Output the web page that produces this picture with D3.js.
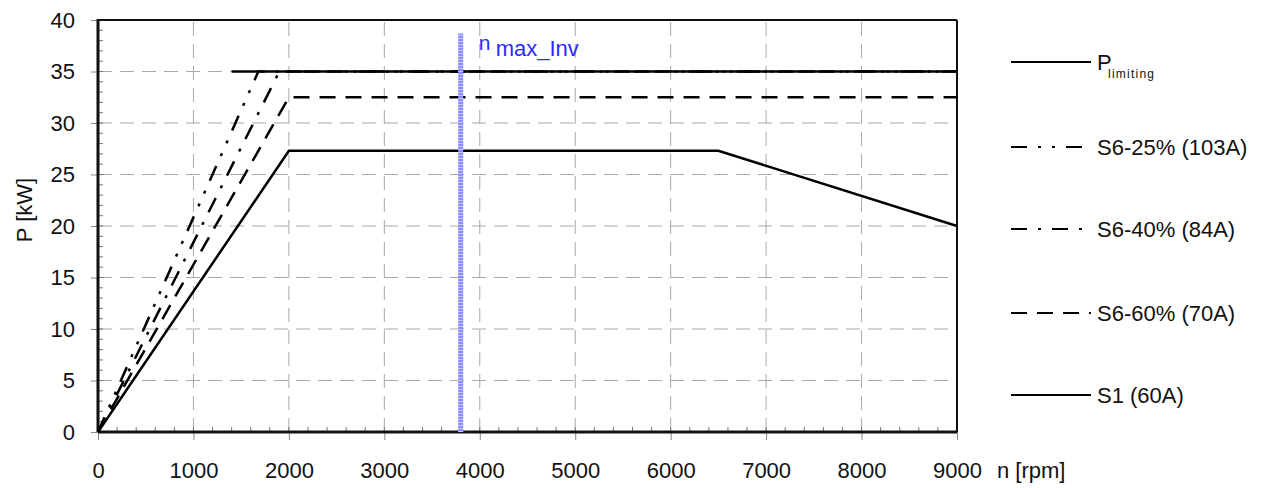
<!DOCTYPE html>
<html>
<head>
<meta charset="utf-8">
<script src="https://cdn.jsdelivr.net/npm/d3@7"></script>
<style>
  body { margin: 0; background: #fff; }
  svg { font-family: "Liberation Sans", Arial, sans-serif; }
</style>
</head>
<body>
<div id="chart"></div>
<script>
// speed [rpm] / power [kW] breakpoints
const pLimitN = [1400, 9000];
const pLimitP = [35, 35];
const s625N = [0, 1680, 9000];
const s625P = [0, 35, 35];
const s640N = [0, 1900, 9000];
const s640P = [0, 35, 35];
const s660N = [0, 2000, 9000];
const s660P = [0, 32.5, 32.5];
const s1N = [0, 2000, 6500, 9000];
const s1P = [0, 27.3, 27.3, 20];
const nMaxInv = 3800;
const nMaxTop = 38.7;
const xTicks = [0, 1000, 2000, 3000, 4000, 5000, 6000, 7000, 8000, 9000];
const yTicks = [0, 5, 10, 15, 20, 25, 30, 35, 40];

const width = 1268, height = 488;
const margin = { left: 98, right: 311, top: 20, bottom: 56 };
const fontSize = 22;

const dash25 = "16,11,3,11,3,11";
const dash40 = "16,11,3,11";
const dash60 = "16,10";

const svg = d3.select("#chart").append("svg")
  .attr("width", width)
  .attr("height", height);

const x = d3.scaleLinear().domain([0, 9000]).range([margin.left, width - margin.right]);
const y = d3.scaleLinear().domain([0, 40]).range([height - margin.bottom, margin.top]);

// grid
const grid = svg.append("g").attr("stroke", "#a8a8a8").attr("stroke-width", 1).attr("stroke-dasharray", "14,8");
grid.selectAll(".gx").data(xTicks.slice(1, -1)).enter().append("line")
  .attr("x1", d => x(d)).attr("x2", d => x(d))
  .attr("y1", y(0)).attr("y2", y(40));
grid.selectAll(".gy").data(yTicks.slice(1, -1)).enter().append("line")
  .attr("x1", x(0)).attr("x2", x(9000))
  .attr("y1", d => y(d)).attr("y2", d => y(d));

// minor ticks inside the frame
const minor = svg.append("g").attr("stroke", "#777").attr("stroke-width", 1);
minor.selectAll(".mx").data(d3.range(200, 9000, 200)).enter().append("line")
  .attr("x1", d => x(d)).attr("x2", d => x(d))
  .attr("y1", y(0)).attr("y2", y(0) - 5);
minor.selectAll(".my").data(d3.range(1, 40, 1)).enter().append("line")
  .attr("x1", x(0)).attr("x2", x(0) + 5)
  .attr("y1", d => y(d)).attr("y2", d => y(d));

// axes
const xAxis = svg.append("g")
  .attr("transform", `translate(0,${y(0)})`)
  .call(d3.axisBottom(x).tickValues(xTicks).tickSize(8).tickSizeOuter(0).tickPadding(22).tickFormat(d3.format("d")));
const yAxis = svg.append("g")
  .attr("transform", `translate(${x(0)},0)`)
  .call(d3.axisLeft(y).tickValues(yTicks).tickSize(7).tickSizeOuter(0).tickPadding(16));
[xAxis, yAxis].forEach(a => {
  a.select(".domain").remove();
  a.selectAll(".tick line").attr("stroke", "#888");
  a.selectAll(".tick text").attr("font-size", fontSize).attr("fill", "#111")
    .style("font-family", "'Liberation Sans', Arial, sans-serif");
});

// frame
svg.append("line").attr("x1", x(0)).attr("x2", x(9000)).attr("y1", y(40)).attr("y2", y(40))
  .attr("stroke", "#111").attr("stroke-width", 2);
svg.append("line").attr("x1", x(9000)).attr("x2", x(9000)).attr("y1", y(40)).attr("y2", y(0))
  .attr("stroke", "#111").attr("stroke-width", 2);
svg.append("line").attr("x1", x(0)).attr("x2", x(9000)).attr("y1", y(0)).attr("y2", y(0))
  .attr("stroke", "#111").attr("stroke-width", 3);
svg.append("line").attr("x1", x(0)).attr("x2", x(0)).attr("y1", y(40) - 1).attr("y2", y(0))
  .attr("stroke", "#111").attr("stroke-width", 3);

// axis titles
svg.append("text").attr("x", 997).attr("y", 478)
  .attr("font-size", fontSize).attr("fill", "#111").text("n [rpm]");
svg.append("text")
  .attr("transform", "translate(32,210) rotate(-90)")
  .attr("text-anchor", "middle").attr("font-size", fontSize).attr("fill", "#111").text("P [kW]");

// series
const series = [
  { name: "S1 (60A)", n: s1N, p: s1P, dash: null },
  { name: "S6-60% (70A)", n: s660N, p: s660P, dash: dash60 },
  { name: "S6-40% (84A)", n: s640N, p: s640P, dash: dash40 },
  { name: "S6-25% (103A)", n: s625N, p: s625P, dash: dash25 },
  { name: "Plimiting", n: pLimitN, p: pLimitP, dash: null }
];

const line = d3.line().x(d => x(d[0])).y(d => y(d[1]));

svg.append("g").selectAll("path").data(series).enter().append("path")
  .attr("d", s => line(s.n.map((v, i) => [v, s.p[i]])))
  .attr("fill", "none")
  .attr("stroke", "#000")
  .attr("stroke-width", 2.5)
  .attr("stroke-dasharray", s => s.dash);

// inverter max speed marker
svg.append("line")
  .attr("x1", x(nMaxInv)).attr("x2", x(nMaxInv))
  .attr("y1", y(0)).attr("y2", y(nMaxTop))
  .attr("stroke", "#8c8cff").attr("stroke-width", 5);
svg.append("line")
  .attr("x1", x(nMaxInv)).attr("x2", x(nMaxInv))
  .attr("y1", y(0)).attr("y2", y(nMaxTop))
  .attr("stroke", "#c8c8ff").attr("stroke-width", 5).attr("stroke-dasharray", "1,2");
svg.append("text").attr("x", x(nMaxInv) + 18).attr("y", 50)
  .attr("fill", "#2a2aff").attr("font-size", 21).text("n");
svg.append("text").attr("x", x(nMaxInv) + 35).attr("y", 56)
  .attr("fill", "#2a2aff").attr("font-size", fontSize).text("max_Inv");

// legend
const legendItems = [
  { n: 0, label: "P", sub: "limiting", dash: null },
  { n: 1, label: "S6-25% (103A)", dash: dash25 },
  { n: 2, label: "S6-40% (84A)", dash: dash40 },
  { n: 3, label: "S6-60% (70A)", dash: dash60 },
  { n: 4, label: "S1 (60A)", dash: null }
];
const legendY = [62, 147, 229, 313, 395];

const legend = svg.selectAll(".legend").data(legendItems).enter().append("g")
  .attr("class", "legend")
  .attr("transform", d => `translate(1011,${legendY[d.n]})`);
legend.append("line")
  .attr("x1", 0).attr("x2", 80).attr("y1", 0).attr("y2", 0)
  .attr("stroke", "#000").attr("stroke-width", 2)
  .attr("stroke-dasharray", d => d.dash);
legend.append("text").attr("x", 86).attr("y", 8)
  .attr("font-size", fontSize).attr("fill", "#111")
  .text(d => d.label);
legend.filter(d => d.sub).append("text")
  .attr("x", 97).attr("y", 16)
  .attr("font-size", 12).attr("fill", "#111")
  .attr("textLength", 46).attr("lengthAdjust", "spacing")
  .text(d => d.sub);
</script>
</body>
</html>
